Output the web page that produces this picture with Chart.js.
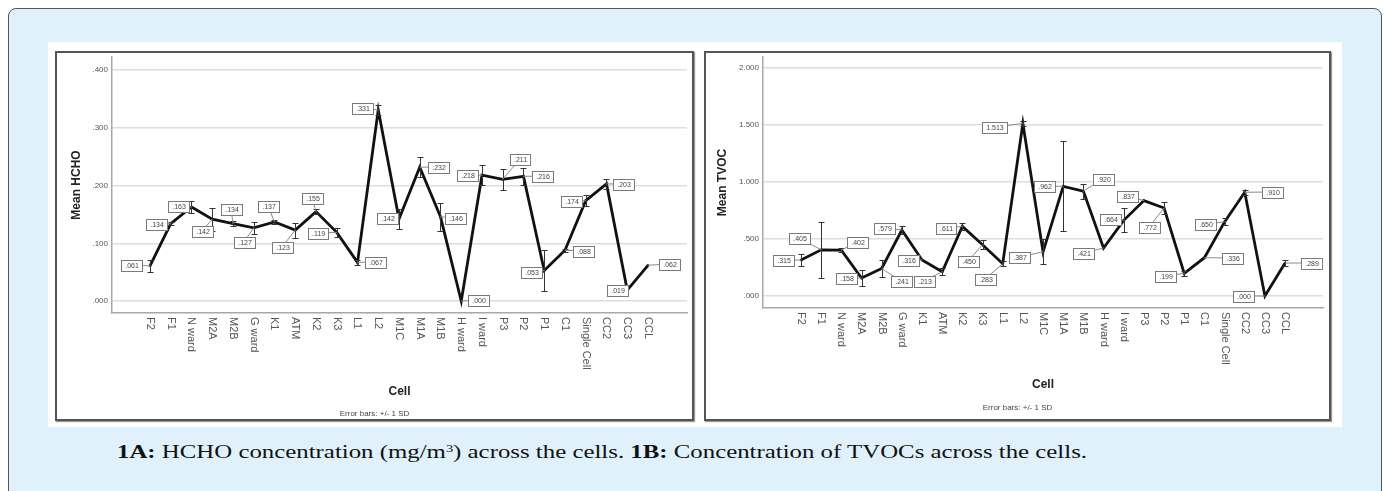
<!DOCTYPE html>
<html>
<head>
<meta charset="utf-8">
<script src="https://cdn.jsdelivr.net/npm/chart.js@4/dist/chart.umd.min.js"></script>
<style>
html,body{margin:0;padding:0;width:1384px;height:491px;overflow:hidden;background:#fff;}
#outer{position:absolute;left:8px;top:8px;width:1372px;height:540px;background:#e0f1fb;border:1px solid #555;border-radius:8px;}
#img{position:absolute;left:48px;top:42px;width:1294px;height:385px;background:#fff;}
.panel{position:absolute;border:2px solid #555;box-shadow:1px 1px 1px #999;background:#fff;}
.panel canvas{position:absolute;left:0;top:0;}
#pA{left:55px;top:51px;width:635px;height:366px;}
#pB{left:704px;top:51px;width:623px;height:366px;}
#cap{position:absolute;left:117px;top:441px;font-family:"Liberation Serif",serif;font-size:19px;line-height:22px;color:#111;white-space:nowrap;transform-origin:0 0;}
#cap sup{font-size:11px;vertical-align:6px;line-height:0;}
</style>
</head>
<body>
<div id="outer"></div>
<div id="img"></div>
<div class="panel" id="pA"><canvas id="cA" width="635" height="366"></canvas></div>
<div class="panel" id="pB"><canvas id="cB" width="623" height="366"></canvas></div>
<div id="cap"><b>1A:</b> HCHO concentration (mg/m<sup>3</sup>) across the cells. <b>1B:</b> Concentration of TVOCs across the cells.</div>
<script>
// ---- data ----
const cells = ["F2","F1","N ward","M2A","M2B","G ward","K1","ATM","K2","K3","L1","L2","M1C","M1A","M1B","H ward","I ward","P3","P2","P1","C1","Single Cell","CC2","CC3","CCL"];
const hchoMean = [0.061,0.134,0.163,0.142,0.134,0.127,0.137,0.123,0.155,0.119,0.067,0.331,0.142,0.232,0.146,0.000,0.218,0.211,0.216,0.053,0.088,0.174,0.203,0.019,0.062];
const hchoSD   = [0.010,0.003,0.011,0.020,0.004,0.010,0.003,0.013,0.004,0.008,0.004,0.008,0.018,0.017,0.024,0.000,0.017,0.018,0.015,0.035,0.003,0.010,0.008,0.000,0.000];
const tvocMean = [0.315,0.405,0.402,0.158,0.241,0.579,0.316,0.213,0.611,0.450,0.283,1.513,0.387,0.962,0.920,0.421,0.664,0.837,0.772,0.199,0.336,0.650,0.910,0.000,0.289];
const tvocSD   = [0.050,0.245,0.020,0.070,0.075,0.035,0.000,0.030,0.030,0.040,0.020,0.025,0.110,0.395,0.065,0.000,0.105,0.000,0.050,0.020,0.000,0.030,0.020,0.000,0.030];
const hchoTicks = [0, 0.1, 0.2, 0.3, 0.4];
const tvocTicks = [0, 0.5, 1.0, 1.5, 2.0];

// ---- layout / style (label placement offsets in px, not data) ----
const hchoLabelPos = [[-19,-1],[-15,0],[-13,-1],[-10,12],[-2,-15],[-10,14],[-6,-16],[-13,17],[-4,-14],[-19,1],[18,0],[-16,-2],[-12,-1],[18,0],[15,1],[17,-1],[-15,0],[17,-20],[19,0],[-13,2],[18,1],[-15,0],[17,0],[-10,0],[21,-1]];
const tvocLabelPos = [[-18,0],[-22,-12],[16,-8],[-16,0],[19,12],[-18,-2],[-14,0],[-18,9],[-16,2],[-15,16],[-18,15],[-29,3],[-24,5],[-19,0],[20,-12],[-21,5],[-14,-1],[-17,-5],[-15,19],[-19,3],[28,0],[-20,2],[27,0],[-22,0],[26,0]];

function fmt(v){ let s = Number(v).toFixed(3); if (s.startsWith('0.')) s = s.slice(1); return s; }

const overlay = {
  id: 'overlay',
  afterDatasetsDraw(chart, args, o) {
    const ctx = chart.ctx, xs = chart.scales.x, ys = chart.scales.y, ca = chart.chartArea;
    ctx.save();
    // error bars
    ctx.strokeStyle = '#333'; ctx.lineWidth = 1;
    o.means.forEach((m, i) => {
      const sd = o.sds[i]; if (!sd) return;
      const x = Math.round(xs.getPixelForValue(i)) + 0.5;
      const y1 = Math.round(ys.getPixelForValue(m + sd)) + 0.5;
      const y2 = Math.round(ys.getPixelForValue(m - sd)) + 0.5;
      ctx.beginPath();
      ctx.moveTo(x, y1); ctx.lineTo(x, y2);
      ctx.moveTo(x - 3, y1); ctx.lineTo(x + 3, y1);
      ctx.moveTo(x - 3, y2); ctx.lineTo(x + 3, y2);
      ctx.stroke();
    });
    // value labels
    ctx.font = '7px "Liberation Sans", Arial, sans-serif';
    ctx.textAlign = 'center'; ctx.textBaseline = 'middle';
    o.means.forEach((m, i) => {
      const x = xs.getPixelForValue(i), y = ys.getPixelForValue(m);
      const [dx, dy] = o.pos[i];
      const t = fmt(m);
      const w = Math.round(ctx.measureText(t).width + 7), h = 11;
      const cx = Math.round(x + dx), cy = Math.round(y + dy);
      ctx.strokeStyle = '#8a8a8a'; ctx.lineWidth = 1;
      ctx.beginPath(); ctx.moveTo(cx, cy); ctx.lineTo(x, y); ctx.stroke();
      const bx = Math.round(cx - w / 2) + 0.5, by = Math.round(cy - h / 2) + 0.5;
      ctx.fillStyle = '#fff'; ctx.fillRect(bx, by, w, h);
      ctx.strokeStyle = '#7a7a7a'; ctx.strokeRect(bx, by, w, h);
      ctx.fillStyle = '#444'; ctx.fillText(t, bx + w / 2, by + h / 2 + 0.5);
    });
    // category labels, rotated to read downward
    ctx.font = '11px "Liberation Sans", Arial, sans-serif';
    ctx.fillStyle = '#555'; ctx.textAlign = 'left'; ctx.textBaseline = 'middle';
    cells.forEach((c, i) => {
      const x = xs.getPixelForValue(i);
      ctx.save(); ctx.translate(x, ca.bottom + 4); ctx.rotate(Math.PI / 2);
      ctx.fillText(c, 0, 0); ctx.restore();
    });
    // axis titles
    ctx.fillStyle = '#222'; ctx.font = 'bold 12px "Liberation Sans", Arial, sans-serif';
    ctx.textAlign = 'center'; ctx.textBaseline = 'middle';
    ctx.fillText('Cell', (ca.left + ca.right) / 2, ca.bottom + o.xTitleDy);
    ctx.save(); ctx.translate(ca.left - o.yTitleDx, (ca.top + ca.bottom) / 2); ctx.rotate(-Math.PI / 2);
    ctx.fillText(o.yTitle, 0, 0); ctx.restore();
    ctx.fillStyle = '#444'; ctx.font = '8px "Liberation Sans", Arial, sans-serif';
    ctx.fillText('Error bars: +/- 1 SD', chart.width / 2, ca.bottom + o.noteDy);
    ctx.restore();
  }
};

function makeChart(id, means, sds, ticks, pos, yMin, yMax, xMin, xMax, st) {
  return new Chart(document.getElementById(id), {
    type: 'line',
    data: { datasets: [{ data: means.map((v, i) => ({ x: i, y: v })), borderColor: '#111', borderWidth: 2.8, pointRadius: 1.5, pointStyle: 'rect', pointBackgroundColor: '#222', pointBorderWidth: 0, tension: 0, fill: false }] },
    options: {
      responsive: false, animation: false, devicePixelRatio: 1,
      layout: { padding: { top: st.padTop, right: st.padRight, left: 0, bottom: 0 } },
      plugins: {
        legend: { display: false }, tooltip: { enabled: false },
        overlay: { means, sds, pos, yTitle: st.yTitle, yTitleDx: st.yTitleDx, xTitleDy: st.xTitleDy, noteDy: st.noteDy }
      },
      scales: {
        x: {
          type: 'linear', min: xMin, max: xMax,
          grid: { display: false, drawTicks: false },
          border: { display: true, color: '#a8a8a8', width: 1.5 },
          ticks: { display: false },
          afterFit(s) { s.height = st.xAxisH; s.paddingLeft = 0; s.paddingRight = 0; }
        },
        y: {
          min: yMin, max: yMax,
          afterBuildTicks(s) { s.ticks = ticks.map(v => ({ value: v })); },
          grid: { color: '#dedede', lineWidth: 1.5, drawTicks: false },
          border: { color: '#a8a8a8', width: 1.5 },
          ticks: { padding: 4, color: '#555', font: { family: 'Liberation Sans', size: 8 }, callback: v => fmt(v) },
          afterFit(s) { s.width = st.yAxisW; s.paddingTop = 0; s.paddingBottom = 0; }
        }
      }
    },
    plugins: [overlay]
  });
}

makeChart('cA', hchoMean, hchoSD, hchoTicks, hchoLabelPos, -0.0207, 0.4229, -1.831, 25.88,
  { padTop: 2, padRight: 5, yAxisW: 55, xAxisH: 106, yTitle: 'Mean HCHO', yTitleDx: 35, xTitleDy: 79, noteDy: 101 });
makeChart('cB', tvocMean, tvocSD, tvocTicks, tvocLabelPos, -0.1053, 2.0965, -1.884, 25.88,
  { padTop: 4, padRight: 6, yAxisW: 57, xAxisH: 111, yTitle: 'Mean TVOC', yTitleDx: 40, xTitleDy: 77, noteDy: 100 });

// fit caption to the reference's width
const cap = document.getElementById('cap');
const w = cap.getBoundingClientRect().width;
cap.style.transform = 'scaleX(' + (970 / w) + ')';
</script>
</body>
</html>
